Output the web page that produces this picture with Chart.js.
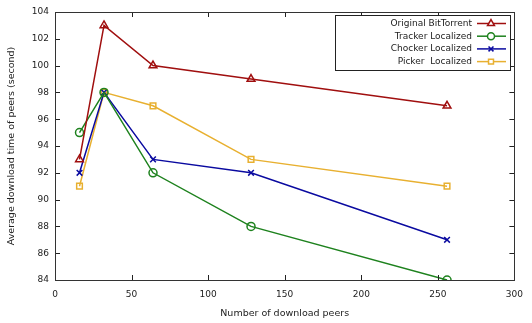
<!DOCTYPE html>
<html>
<head>
<meta charset="utf-8">
<script src="https://cdn.jsdelivr.net/npm/chart.js@4/dist/chart.umd.min.js"></script>
<style>
  html, body { margin: 0; padding: 0; background: #fff; }
  #wrap { width: 532px; height: 323px; }
</style>
</head>
<body>
<div id="wrap"><canvas id="chart" width="532" height="323"></canvas></div>
<script>
const peers = [16, 32, 64, 128, 256];
const originalBT = [93, 103, 100, 99, 97];
const trackerLoc = [95, 98, 92, 88, 84];
const chockerLoc = [92, 98, 93, 92, 87];
const pickerLoc = [91, 98, 97, 93, 91];
const xTicks = [0, 50, 100, 150, 200, 250, 300];
const yTicks = [84, 86, 88, 90, 92, 94, 96, 98, 100, 102, 104];

const FONT = '"DejaVu Sans", sans-serif';

const mk = (label, data, color, style) => ({
  label,
  data: data.map((v, i) => ({ x: peers[i], y: v })),
  borderColor: color,
  backgroundColor: 'rgba(0,0,0,0)',
  pointBorderColor: color,
  pointBackgroundColor: 'rgba(0,0,0,0)',
  pointStyle: style,
  pointRadius: style === 'triangle' ? 4.5 : 4,
  pointBorderWidth: 1.5,
  borderWidth: 1.5,
  tension: 0,
});

// gnuplot style frame: border box with inward ticks on all four sides
const frame = {
  id: 'frame',
  afterDatasetsDraw(chart) {
    const { ctx, chartArea: a, scales: { x, y } } = chart;
    ctx.save();
    ctx.strokeStyle = '#222';
    ctx.lineWidth = 1;
    ctx.beginPath();
    xTicks.forEach((t) => {
      const px = Math.round(x.getPixelForValue(t)) + 0.5;
      ctx.moveTo(px, a.bottom); ctx.lineTo(px, a.bottom - 5);
      ctx.moveTo(px, a.top); ctx.lineTo(px, a.top + 5);
    });
    yTicks.forEach((t) => {
      const py = Math.round(y.getPixelForValue(t)) + 0.5;
      ctx.moveTo(a.left, py); ctx.lineTo(a.left + 5, py);
      ctx.moveTo(a.right, py); ctx.lineTo(a.right - 5, py);
    });
    ctx.stroke();
    ctx.strokeStyle = '#333';
    ctx.strokeRect(Math.round(a.left) + 0.5, Math.round(a.top) + 0.5,
      Math.round(a.right - a.left), Math.round(a.bottom - a.top));

    // legend box
    const bx = 335.5, by = 15.5, bw = 175, bh = 55;
    ctx.fillStyle = '#fff';
    ctx.fillRect(bx, by, bw, bh);
    ctx.strokeStyle = '#222';
    ctx.strokeRect(bx, by, bw, bh);
    ctx.font = '9px ' + FONT;
    ctx.textAlign = 'right';
    ctx.textBaseline = 'middle';
    chart.data.datasets.forEach((ds, i) => {
      const ly = by + 8 + i * 12.7;
      ctx.fillStyle = '#222';
      ctx.fillText(ds.label, 472, ly);
      ctx.strokeStyle = ds.borderColor;
      ctx.lineWidth = 1.5;
      ctx.beginPath();
      ctx.moveTo(477, ly); ctx.lineTo(506, ly);
      ctx.stroke();
      ctx.fillStyle = '#fff';
      Chart.helpers.drawPoint(ctx, {
        pointStyle: ds.pointStyle,
        radius: ds.pointRadius - 0.5,
        borderWidth: 1.5,
        rotation: 0,
      }, 491, ly);
    });
    ctx.restore();
  },
};

new Chart(document.getElementById('chart'), {
  type: 'line',
  data: {
    datasets: [
      mk('Original BitTorrent', originalBT, '#a00f0f', 'triangle'),
      mk('Tracker Localized', trackerLoc, '#1e821e', 'circle'),
      mk('Chocker Localized', chockerLoc, '#0a0aa0', 'crossRot'),
      mk('Picker  Localized', pickerLoc, '#e8b030', 'rect'),
    ],
  },
  options: {
    responsive: false,
    animation: false,
    layout: { padding: { top: 12, right: 15, left: 0, bottom: 4 } },
    plugins: { legend: { display: false }, tooltip: { enabled: false } },
    scales: {
      x: {
        type: 'linear',
        min: 0,
        max: 300,
        afterBuildTicks: (s) => { s.ticks = xTicks.map((v) => ({ value: v })); },
        grid: { display: false, drawTicks: false },
        border: { display: false },
        ticks: { color: '#222', font: { family: FONT, size: 9 }, padding: 9, maxRotation: 0 },
        title: { display: true, text: 'Number of download peers', color: '#222', font: { family: FONT, size: 9.5 }, padding: { top: 6, bottom: 0 } },
        afterFit: (s) => { s.height = 39; },
      },
      y: {
        min: 84,
        max: 104,
        afterBuildTicks: (s) => { s.ticks = yTicks.map((v) => ({ value: v })); },
        grid: { display: false, drawTicks: false },
        border: { display: false },
        ticks: { color: '#222', font: { family: FONT, size: 9 }, padding: 6 },
        title: { display: true, text: 'Average download time of peers (second)', color: '#222', font: { family: FONT, size: 9.5 }, padding: { top: 6, bottom: 4 } },
        afterFit: (s) => { s.width = 55; },
      },
    },
  },
  plugins: [frame],
});
</script>
</body>
</html>
